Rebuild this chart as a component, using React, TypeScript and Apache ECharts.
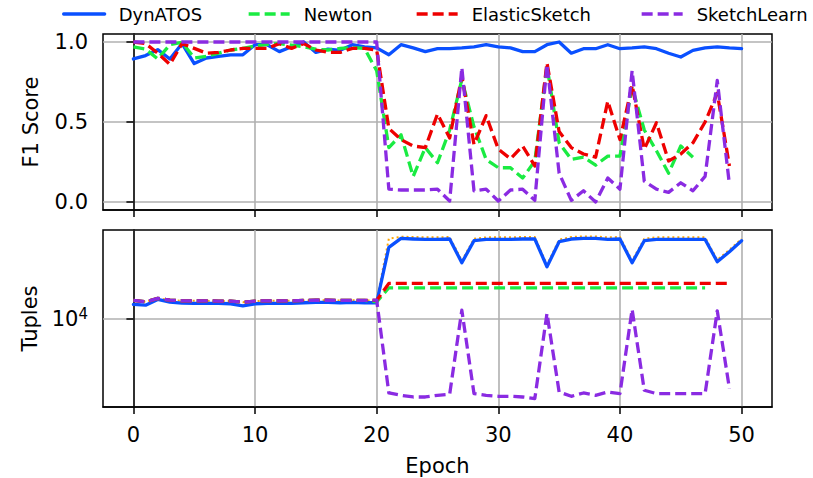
import React, { useEffect, useRef } from "react";
import * as echarts from "echarts";

// Axis ticks
const epochTicks = [0, 10, 20, 30, 40, 50];
const f1Ticks = [0, 0.5, 1];
const tupleTicks = [10000];

// F1 score per epoch (index = epoch)
const dynatosF1 = [
  0.894, 0.915, 0.952, 0.894, 0.99, 0.865, 0.9, 0.91, 0.92, 0.92,
  0.983, 0.983, 0.94, 0.97, 1.0, 0.935, 0.956, 0.948, 0.983, 0.97,
  0.963, 0.92, 0.983, 0.963, 0.94, 0.958, 0.958, 0.963, 0.97, 0.983,
  0.97, 0.963, 0.94, 0.94, 0.983, 1.0, 0.93, 0.958, 0.958, 0.983,
  0.958, 0.963, 0.97, 0.958, 0.93, 0.906, 0.948, 0.963, 0.97, 0.963, 0.958,
];
const newtonF1 = [
  0.969, 0.956, 0.894, 0.983, 0.998, 0.9, 0.91, 0.93, 0.95, 0.96,
  0.975, 0.985, 0.99, 0.98, 0.97, 0.955, 0.95, 0.96, 0.965, 0.96,
  0.82, 0.34, 0.42, 0.16, 0.34, 0.245, 0.45, 0.765, 0.47, 0.266,
  0.214, 0.214, 0.15, 0.256, 0.85, 0.37, 0.266, 0.28, 0.23, 0.287,
  0.287, 0.72, 0.45, 0.32, 0.18, 0.35, 0.28,
];
const elasticF1 = [
  1.0, 0.99, 0.93, 0.86, 0.99, 0.96, 0.93, 0.935, 0.95, 0.96,
  0.96, 0.96, 0.99, 0.96, 0.99, 0.95, 0.935, 0.935, 0.96, 0.96,
  0.95, 0.46, 0.39, 0.35, 0.34, 0.55, 0.4, 0.786, 0.36, 0.54,
  0.33, 0.27, 0.35, 0.225, 0.87, 0.44, 0.34, 0.3, 0.28, 0.63,
  0.39, 0.73, 0.33, 0.495, 0.256, 0.3, 0.37, 0.5, 0.68, 0.225,
];
const sketchLearnF1 = [
  1.0, 1.0, 1.0, 1.0, 1.0, 1.0, 1.0, 1.0, 1.0, 1.0,
  1.0, 1.0, 1.0, 1.0, 1.0, 1.0, 1.0, 1.0, 1.0, 1.0,
  1.0, 0.08, 0.075, 0.075, 0.075, 0.08, 0.006, 0.84, 0.07, 0.08,
  0.006, 0.075, 0.08, 0.01, 0.86, 0.18, 0.01, 0.07, 0.0, 0.15,
  0.08, 0.82, 0.13, 0.08, 0.06, 0.12, 0.07, 0.16, 0.76, 0.11,
];

// Tuples per epoch (log scale)
const actualTuples = [
  14100, 13750, 14650, 14200, 14000, 14000, 14000, 13950, 13950, 13650,
  13950, 14000, 14000, 14000, 14100, 14150, 14150, 14100, 14150, 14100,
  14100, 44000, 45500, 45300, 45000, 45000, 45300, 29300, 43900, 45000,
  45000, 45000, 45300, 45300, 27200, 43100, 45300, 45800, 45800, 45000,
  45300, 29300, 43900, 45000, 45000, 45000, 45000, 45000, 29800, 35800, 43800,
];
const dynatosTuples = [
  13110, 12940, 14380, 13680, 13430, 13360, 13360, 13360, 13270, 12780,
  13270, 13360, 13360, 13360, 13520, 13600, 13600, 13520, 13600, 13520,
  13520, 37460, 44220, 43650, 43300, 43300, 43650, 28210, 42300, 43300,
  43300, 43300, 43650, 43650, 26200, 41530, 43650, 44220, 44220, 43300,
  43650, 28210, 42300, 43300, 43300, 43300, 43300, 43300, 28730, 34550, 42300,
];
const newtonTuples = [
  14100, 13750, 14650, 14200, 14000, 14000, 14000, 13950, 13950, 13650,
  13950, 14000, 14000, 14000, 14100, 14150, 14150, 14100, 14150, 14100,
  13750, 17800, 17800, 17800, 17800, 17800, 17800, 17800, 17800, 17800,
  17800, 17800, 17800, 17800, 17800, 17800, 17800, 17800, 17800, 17800,
  17800, 17800, 17800, 17800, 17800, 17800, 17800, 17800,
];
const elasticTuples = [
  14100, 13750, 14650, 14200, 14000, 14000, 14000, 13950, 13950, 13650,
  13950, 14000, 14000, 14000, 14100, 14150, 14150, 14100, 14150, 14100,
  14100, 19300, 19300, 19300, 19300, 19300, 19300, 19300, 19300, 19300,
  19300, 19300, 19300, 19300, 19300, 19300, 19300, 19300, 19300, 19300,
  19300, 19300, 19300, 19300, 19300, 19300, 19300, 19300, 19300, 19300,
];
const sketchLearnTuples = [
  14100, 13750, 14650, 14200, 14000, 14000, 14000, 13950, 13950, 13650,
  13950, 14000, 14000, 14000, 14100, 14150, 14150, 14100, 14150, 14100,
  14200, 2573, 2466, 2390, 2390, 2466, 2512, 11800, 2544, 2466,
  2421, 2421, 2390, 2320, 11110, 2620, 2421, 2573, 2466, 2620,
  2544, 11960, 2704, 2544, 2544, 2544, 2544, 2544, 11650, 2790,
];

const FONT = "DejaVu Sans";
const BLUE = "#0a50ff";
const GREEN = "#1aeb42";
const RED = "#ee0000";
const PURPLE = "#8a2be2";
const ORANGE = "#ffa500";
const GRID_GRAY = "#b0b0b0";
const DASH = [11, 5];
const LINE_W = 3.3;

const legendItems = [
  { name: "DynATOS", left: 62 },
  { name: "Newton", left: 247 },
  { name: "ElasticSketch", left: 415 },
  { name: "SketchLearn", left: 640 },
];

const pairs = (values: number[]) => values.map((v, i) => [i, v]);

function lineSeries(
  name: string,
  values: number[],
  color: string,
  axis: number,
  dashed: boolean | "dotted",
  width = LINE_W
) {
  return {
    type: "line",
    name,
    xAxisIndex: axis,
    yAxisIndex: axis,
    data: pairs(values),
    symbol: "none",
    silent: true,
    lineStyle: {
      color,
      width,
      type: dashed === "dotted" ? [2, 3] : dashed ? DASH : "solid",
      cap: dashed ? "butt" : "round",
      join: "round",
    },
    itemStyle: { color },
    emphasis: { disabled: true },
  };
}

function xAxis(gridIndex: number, withLabels: boolean) {
  return {
    type: "value",
    gridIndex,
    min: -2.5,
    max: 52.5,
    axisLine: { show: true, onZero: false, lineStyle: { color: "#000", width: 1.5 } },
    axisTick: {
      show: true,
      length: 7,
      customValues: epochTicks,
      lineStyle: { color: "#000", width: 1.5 },
    },
    axisLabel: {
      show: withLabels,
      customValues: epochTicks,
      fontFamily: FONT,
      fontSize: 21,
      color: "#000",
      margin: 17,
    },
    splitLine: { show: true, lineStyle: { color: GRID_GRAY, width: 1.6 } },
    name: withLabels ? "Epoch" : "",
    nameLocation: "middle",
    nameGap: 48,
    nameTextStyle: { fontFamily: FONT, fontSize: 21, color: "#000" },
  };
}

export default function App() {
  const ref = useRef<HTMLDivElement>(null);

  useEffect(() => {
    if (!ref.current) return;
    const chart = echarts.init(ref.current, null, { renderer: "svg" });

    const option = {
      animation: false,
      backgroundColor: "#fff",
      textStyle: { fontFamily: FONT },
      legend: legendItems.map((item) => ({
        data: [item.name],
        left: item.left,
        top: 4,
        padding: 0,
        itemWidth: 41,
        itemHeight: 14,
        selectedMode: false,
        itemStyle: { opacity: 0, borderWidth: 0 },
        lineStyle: { width: LINE_W },
        textStyle: {
          fontFamily: FONT,
          fontSize: 18,
          color: "#000",
          lineHeight: 20,
          padding: [0, 0, 0, 9],
        },
      })),
      grid: [
        {
          left: 103,
          top: 34,
          width: 669,
          height: 176,
          show: true,
          borderColor: "#000",
          borderWidth: 1.5,
          containLabel: false,
        },
        {
          left: 103,
          top: 230,
          width: 669,
          height: 177,
          show: true,
          borderColor: "#000",
          borderWidth: 1.5,
          containLabel: false,
        },
      ],
      xAxis: [xAxis(0, false), xAxis(1, true)],
      yAxis: [
        {
          type: "value",
          gridIndex: 0,
          min: -0.05,
          max: 1.05,
          axisLine: { show: true, lineStyle: { color: "#000", width: 1.5 } },
          axisTick: {
            show: true,
            length: 7,
            customValues: f1Ticks,
            lineStyle: { color: "#000", width: 1.5 },
          },
          axisLabel: {
            customValues: f1Ticks,
            formatter: (v: number) => v.toFixed(1),
            fontFamily: FONT,
            fontSize: 21,
            color: "#000",
            margin: 15,
          },
          splitLine: { show: true, lineStyle: { color: GRID_GRAY, width: 1.6 } },
          name: "F1 Score",
          nameLocation: "middle",
          nameGap: 62,
          nameTextStyle: { fontFamily: FONT, fontSize: 21, color: "#000" },
        },
        {
          type: "log",
          logBase: 10,
          gridIndex: 1,
          min: 1988,
          max: 51520,
          axisLine: { show: true, lineStyle: { color: "#000", width: 1.5 } },
          axisTick: {
            show: true,
            length: 7,
            customValues: tupleTicks,
            lineStyle: { color: "#000", width: 1.5 },
          },
          axisLabel: {
            customValues: tupleTicks,
            formatter: () => "{b|10}{s|4}",
            margin: 15,
            rich: {
              b: { fontFamily: FONT, fontSize: 21, color: "#000", lineHeight: 26 },
              s: {
                fontFamily: FONT,
                fontSize: 15,
                color: "#000",
                verticalAlign: "top",
                lineHeight: 14,
              },
            },
          },
          minorTick: { show: false },
          splitLine: { show: true, lineStyle: { color: GRID_GRAY, width: 1.6 } },
          name: "Tuples",
          nameLocation: "middle",
          nameGap: 62,
          nameTextStyle: { fontFamily: FONT, fontSize: 21, color: "#000" },
        },
      ],
      series: [
        lineSeries("DynATOS", dynatosF1, BLUE, 0, false),
        lineSeries("Newton", newtonF1, GREEN, 0, true),
        lineSeries("ElasticSketch", elasticF1, RED, 0, true),
        lineSeries("SketchLearn", sketchLearnF1, PURPLE, 0, true),
        lineSeries("Actual", actualTuples, ORANGE, 1, "dotted", 2),
        lineSeries("DynATOS", dynatosTuples, BLUE, 1, false),
        lineSeries("Newton", newtonTuples, GREEN, 1, true),
        lineSeries("ElasticSketch", elasticTuples, RED, 1, true),
        lineSeries("SketchLearn", sketchLearnTuples, PURPLE, 1, true),
      ],
    };

    chart.setOption(option as any);
    return () => chart.dispose();
  }, []);

  return (
    <div
      ref={ref}
      style={{ position: "fixed", left: 0, top: 0, width: 813, height: 478 }}
    />
  );
}
